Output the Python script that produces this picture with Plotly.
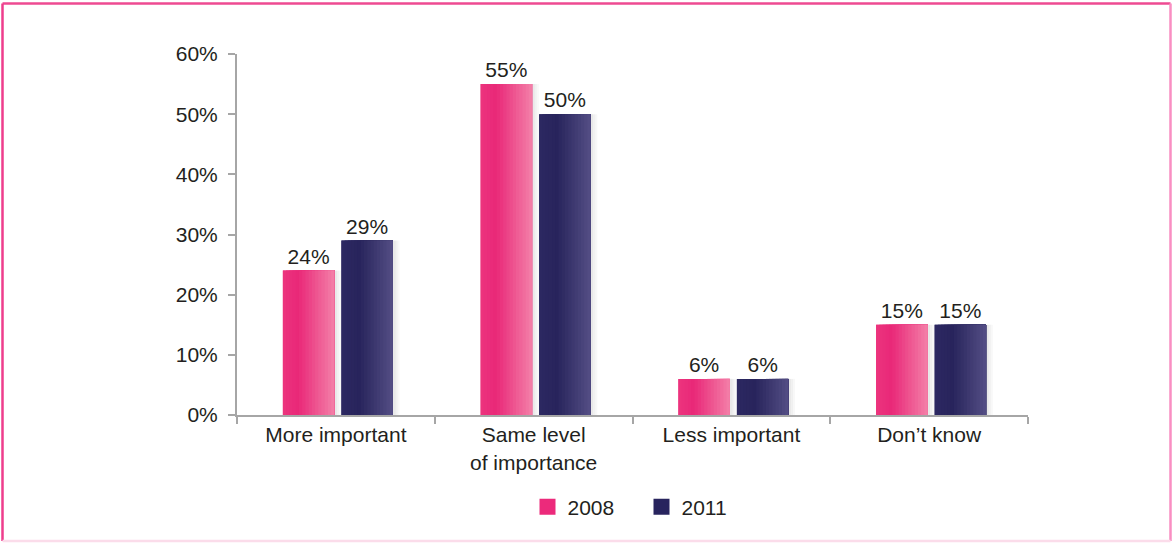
import plotly.graph_objects as go

categories = ["More important", "Same level<br>of importance", "Less important", "Don\u2019t know"]
series_names = ["2008", "2011"]
values_2008 = [24, 55, 6, 15]
values_2011 = [29, 50, 6, 15]
y_ticks = [0, 10, 20, 30, 40, 50, 60]
y_tick_labels = ["0%", "10%", "20%", "30%", "40%", "50%", "60%"]

FONT = "Liberation Sans, Arial, sans-serif"
TXT = "#231F20"
BAR_W = 0.26
N = 16


def lerp(c1, c2, t):
    return tuple(round(a + (b - a) * t) for a, b in zip(c1, c2))


def grad(stops, t):
    for (t0, c0), (t1, c1) in zip(stops, stops[1:]):
        if t <= t1:
            return lerp(c0, c1, (t - t0) / (t1 - t0) if t1 > t0 else 0)
    return stops[-1][1]


styles = {
    "2008": dict(vals=values_2008, off=-0.268, base=(236, 42, 123),
                 stops=[(0, (236, 52, 126)), (0.3, (233, 40, 120)), (1, (243, 128, 168))]),
    "2011": dict(vals=values_2011, off=0.028, base=(40, 36, 94),
                 stops=[(0, (44, 40, 97)), (0.35, (40, 36, 92)), (1, (84, 78, 133))]),
}

fig = go.Figure()

# soft shadows
for name in series_names:
    s = styles[name]
    for k, op in enumerate([0.16, 0.10, 0.05]):
        fig.add_trace(go.Bar(
            x=categories, y=s["vals"], width=0.012, offset=s["off"] + BAR_W + k * 0.011,
            marker=dict(color=f"rgba(120,120,120,{op})", line=dict(width=0)),
            showlegend=False, hoverinfo="skip"))

# base bars with labels
for name in series_names:
    s = styles[name]
    fig.add_trace(go.Bar(
        x=categories, y=s["vals"], width=BAR_W, offset=s["off"], name=name,
        marker=dict(color="rgb(%d,%d,%d)" % s["base"], line=dict(width=0)),
        text=[f"{v}%" for v in s["vals"]], textposition="outside",
        textfont=dict(family=FONT, size=21, color=TXT), cliponaxis=False,
        showlegend=False))

# gradient slices (each runs to the bar's right edge, so no seams)
for name in series_names:
    s = styles[name]
    sw = BAR_W / N
    for i in range(N):
        c = grad(s["stops"], (i + 0.5) / N)
        fig.add_trace(go.Bar(
            x=categories, y=s["vals"], width=BAR_W - i * sw, offset=s["off"] + i * sw,
            marker=dict(color="rgb(%d,%d,%d)" % c, line=dict(width=0)),
            showlegend=False, hoverinfo="skip"))

# legend entries
for name in series_names:
    s = styles[name]
    fig.add_trace(go.Scatter(
        x=[None], y=[None], mode="markers", name=name,
        marker=dict(symbol="square", size=16, color="rgb(%d,%d,%d)" % s["base"])))

W, H = 1173, 543
L, R, T, B = 237, 145, 54, 128
pw, ph = W - L - R, H - T - B


def px(x):
    return (x - L) / pw


def py(y):
    return (H - B - y) / ph


# frame: top/left strong pink, right lighter, bottom faint
frame = [
    (2.5, 3.5, 1170.5, 3.5, "#EE4A92"),
    (2.5, 3.5, 2.5, 541, "#EE3D8C"),
    (1170.5, 3.5, 1170.5, 541, "#F98EC2"),
    (2.5, 541, 1170.5, 541, "#FBDCEA"),
]
for x0, y0, x1, y1, col in frame:
    fig.add_shape(type="line", xref="paper", yref="paper",
                  x0=px(x0), x1=px(x1), y0=py(y0), y1=py(y1),
                  line=dict(color=col, width=2.5), layer="above")

fig.update_layout(
    width=W, height=H,
    margin=dict(l=L, r=R, t=T, b=B, pad=0),
    barmode="overlay",
    paper_bgcolor="white", plot_bgcolor="white",
    font=dict(family=FONT, size=21, color=TXT),
    showlegend=True,
    legend=dict(orientation="h", x=px(527.5), xanchor="left", y=-0.255, yanchor="middle",
                font=dict(family=FONT, size=21, color=TXT), itemwidth=30,
                entrywidth=69, entrywidthmode="pixels",
                bgcolor="rgba(0,0,0,0)"),
    xaxis=dict(type="category", showline=True, linecolor="#A6A6A6", linewidth=2,
               ticks="outside", tickson="boundaries", ticklen=7, tickwidth=2,
               tickcolor="#A6A6A6", showgrid=False, zeroline=False,
               tickfont=dict(family=FONT, size=21, color=TXT), range=[-0.5, 3.5]),
    yaxis=dict(range=[0, 60], tickvals=y_ticks, ticktext=y_tick_labels,
               showline=True, linecolor="#A6A6A6", linewidth=2,
               ticks="outside", ticklen=7, tickwidth=2, tickcolor="#A6A6A6",
               showgrid=False, zeroline=False, ticklabelstandoff=6,
               tickfont=dict(family=FONT, size=21, color=TXT)),
)

fig.write_html("out.html")
